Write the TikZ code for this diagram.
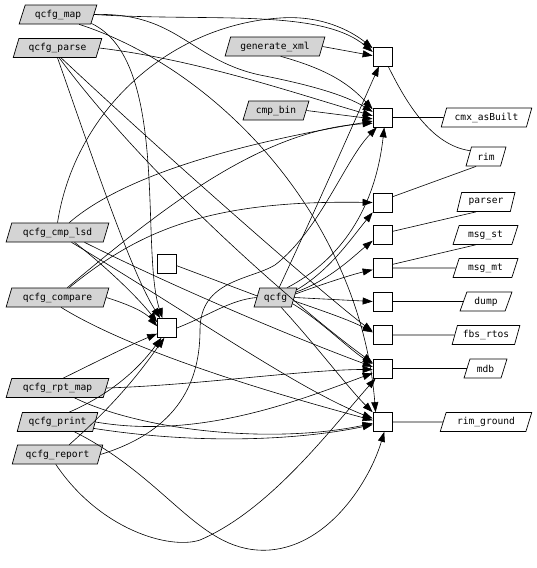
\documentclass[tikz,border=0pt]{standalone}
\usepackage{fontspec}
\newfontfamily\gvfont{DejaVu Sans Mono}
\usetikzlibrary{shapes.geometric,arrows.meta}

\tikzset{
  box/.style={trapezium, trapezium left angle=66, trapezium right angle=114,
    trapezium stretches=true, draw, line width=0.7pt, minimum height=19pt,
    inner ysep=0pt, inner xsep=0pt, font=\gvfont\fontsize{9.6}{11}\selectfont},
  prog/.style={box, fill=black!17},
  lib/.style={box, fill=white},
  junc/.style={draw, fill=white, line width=0.7pt, minimum size=19pt, inner sep=0pt},
  dep/.style={-{Triangle[length=10pt,width=7pt]}, line width=0.6pt},
  link/.style={line width=0.6pt}
}

\begin{document}
\begin{tikzpicture}[x=1pt,y=-1pt]
\useasboundingbox (0,0) rectangle (536,568);
% programs on the left
\node[prog, minimum width=78pt] (map) at (58,14.5) {qcfg\_map};
\node[prog, minimum width=89pt] (parse) at (57.5,48) {qcfg\_parse};
\node[prog, minimum width=103pt] (cmplsd) at (57.5,232.5) {qcfg\_cmp\_lsd};
\node[prog, minimum width=103pt] (compare) at (57.5,297.5) {qcfg\_compare};
\node[prog, minimum width=103pt] (rptmap) at (57.5,388) {qcfg\_rpt\_map};
\node[prog, minimum width=81pt] (print) at (57.5,422) {qcfg\_print};
\node[prog, minimum width=91pt] (report) at (57.5,454.5) {qcfg\_report};
\node[prog, minimum width=100pt] (genxml) at (275,46.5) {generate\_xml};
\node[prog, minimum width=66pt] (cmpbin) at (276,110.5) {cmp\_bin};
\node[prog, minimum width=43pt] (qcfg) at (275.5,297.5) {qcfg};

% junctions
\node[junc] (s1) at (382.5,56.5) {};
\node[junc] (s2) at (382.5,117.5) {};
\node[junc] (s3) at (382.5,202.5) {};
\node[junc] (s4) at (382.5,235) {};
\node[junc] (s5) at (382.5,268) {};
\node[junc] (s6) at (382.5,301.5) {};
\node[junc] (s7) at (382.5,335) {};
\node[junc] (s8) at (382.5,368.5) {};
\node[junc] (s9) at (382.5,422) {};
\node[junc] (s10) at (167,264) {};
\node[junc] (s11) at (167,328) {};

% libraries on the right
\node[lib, minimum width=91pt] (cmx) at (486.5,117.5) {cmx\_asBuilt};
\node[lib, minimum width=40pt] (rim) at (486,156.5) {rim};
\node[lib, minimum width=58pt] (parser) at (486,202) {parser};
\node[lib, minimum width=65pt] (msgst) at (485.5,235) {msg\_st};
\node[lib, minimum width=65pt] (msgmt) at (485.5,268) {msg\_mt};
\node[lib, minimum width=52pt] (dump) at (486,301.5) {dump};
\node[lib, minimum width=68pt] (fbs) at (486,335) {fbs\_rtos};
\node[lib, minimum width=43pt] (mdb) at (485.5,368.5) {mdb};
\node[lib, minimum width=92pt] (rimg) at (486,422) {rim\_ground};

% qcfg_map
\draw[dep] (map.east) .. controls (210,22) and (320,8) .. (s1.155);
\draw[dep] (map.east) .. controls (180,12) and (190,62) .. (265,76) .. controls (310,85) and (345,95) .. (s2.150);
\draw[dep] (map.-15) .. controls (170,60) and (140,250) .. (s11.115);
\draw[dep] (map.-25) .. controls (220,70) and (360,220) .. (s9.125);
% qcfg_parse
\draw[dep] (parse.east) .. controls (200,60) and (300,95) .. (s2.170);
\draw[dep] (parse.south) .. controls (90,150) and (130,270) .. (s11.125);
\draw[dep] (parse.-80) .. controls (150,180) and (300,310) .. (s8.150);
\draw[dep] (parse.-70) .. controls (170,160) and (330,300) .. (s7.160);
% generate_xml, cmp_bin
\draw[dep] (genxml.east) -- (s1.175);
\draw[dep] (genxml.-60) .. controls (330,70) and (350,85) .. (s2.140);
\draw[dep] (cmpbin.east) -- (s2.188);
% qcfg_cmp_lsd
\draw[dep] (cmplsd.north) .. controls (75,110) and (170,25) .. (280,18) .. controls (320,15) and (350,30) .. (s1.140);
\draw[dep] (cmplsd.40) .. controls (130,170) and (260,140) .. (s2.200);
\draw[dep] (cmplsd.-30) .. controls (110,270) and (140,300) .. (s11.150);
\draw[dep] (cmplsd.-20) .. controls (180,290) and (300,340) .. (s8.170);
\draw[dep] (cmplsd.-35) .. controls (200,320) and (300,390) .. (s9.160);
% qcfg_compare
\draw[dep] (compare.45) .. controls (160,210) and (260,130) .. (s2.210);
\draw[dep] (compare.40) .. controls (140,230) and (210,200) .. (s3.west);
\draw[dep] (compare.east) .. controls (130,305) and (145,312) .. (s11.170);
\draw[dep] (compare.-70) .. controls (130,350) and (260,390) .. (s9.170);
% qcfg_rpt_map
\draw[dep] (rptmap.60) .. controls (100,360) and (130,345) .. (s11.210);
\draw[dep] (rptmap.east) .. controls (200,385) and (300,370) .. (s8.185);
\draw[dep] (rptmap.-30) .. controls (140,430) and (270,445) .. (s9.188);
% qcfg_print
\draw[dep] (print.40) .. controls (120,390) and (145,360) .. (s11.240);
\draw[dep] (print.east) .. controls (200,440) and (300,400) .. (s8.205);
\draw[dep] (print.-10) .. controls (200,445) and (300,440) .. (s9.195);
\draw[dep] (print.-30) .. controls (170,480) and (200,555) .. (270,550) .. controls (330,545) and (370,480) .. (s9.-80);
% qcfg_report
\draw[dep] (report.40) .. controls (120,400) and (145,365) .. (s11.255);
\draw[dep] (report.east) .. controls (180,430) and (200,380) .. (200,330) .. controls (200,280) and (250,280) .. (275,265) .. controls (320,230) and (345,160) .. (s2.240);
\draw[dep] (report.-100) .. controls (100,530) and (170,550) .. (200,540) .. controls (270,510) and (330,430) .. (s8.235);
% qcfg
\draw[dep] (qcfg.70) .. controls (320,200) and (355,120) .. (s1.250);
\draw[dep] (qcfg.40) .. controls (340,260) and (375,210) .. (s2.280);
\draw[dep] (qcfg.20) .. controls (330,270) and (350,240) .. (s3.225);
\draw[dep] (qcfg.15) .. controls (330,280) and (355,255) .. (s4.210);
\draw[dep] (qcfg.10) .. controls (320,285) and (350,275) .. (s5.190);
\draw[dep] (qcfg.east) -- (s6.west);
\draw[dep] (qcfg.-10) .. controls (320,310) and (350,320) .. (s7.165);
\draw[dep] (qcfg.-20) .. controls (320,320) and (350,350) .. (s8.155);
\draw[dep] (qcfg.-60) .. controls (320,350) and (350,390) .. (s9.135);

% plain links
\draw[link] (s10.-10) -- (qcfg.175);
\draw[link] (s11.east) .. controls (210,315) and (230,300) .. (qcfg.west);
\draw[link] (s1.-60) .. controls (405,100) and (430,145) .. (rim.160);
\draw[link] (s2.east) -- (cmx.west);
\draw[link] (s3.30) -- (rim.south west);
\draw[link] (s4.20) -- (parser.south west);
\draw[link] (s5.20) -- (msgst.south west);
\draw[link] (s5.east) -- (msgmt.west);
\draw[link] (s6.east) -- (dump.west);
\draw[link] (s7.east) -- (fbs.west);
\draw[link] (s8.east) -- (mdb.west);
\draw[link] (s9.east) -- (rimg.west);
\end{tikzpicture}
\end{document}
